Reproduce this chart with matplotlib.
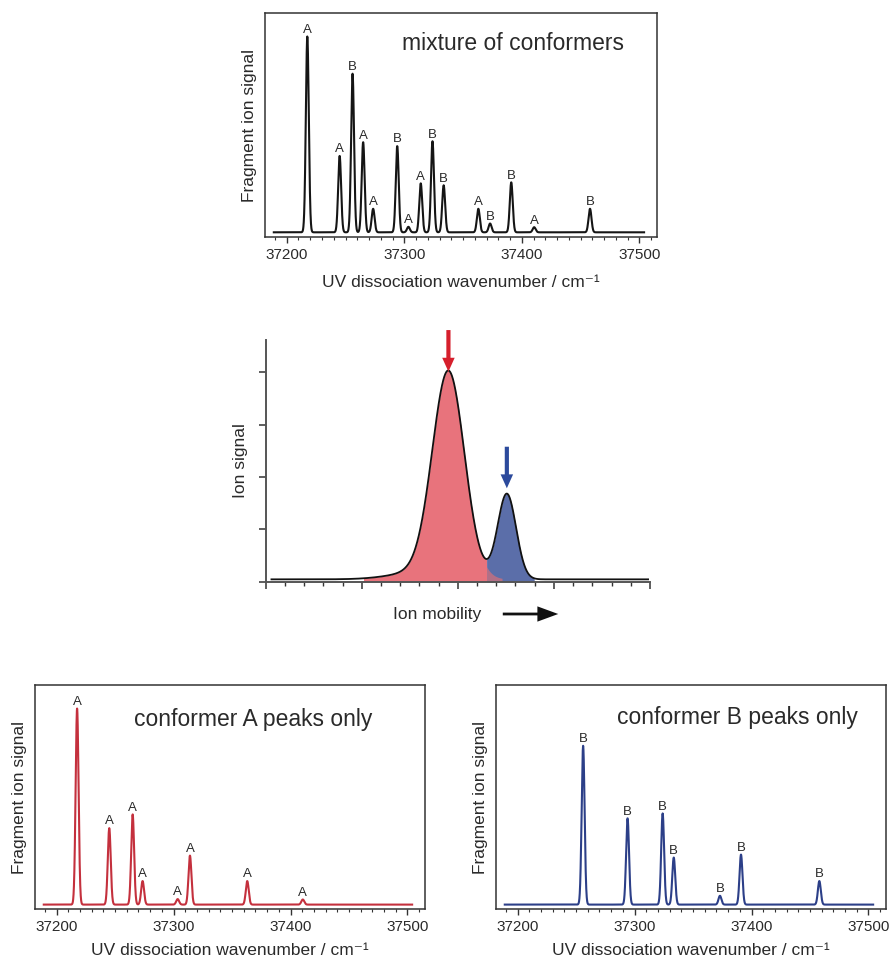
import numpy as np
import matplotlib
matplotlib.use("Agg")
import matplotlib.pyplot as plt
from matplotlib.ticker import MultipleLocator, NullLocator

plt.rcParams['font.family'] = ['Liberation Sans', 'DejaVu Sans']

# ---------------- data ----------------
peaks_A_pos = [37217.5, 37245, 37265, 37273.5, 37303.5, 37314, 37363, 37410.5]
peaks_A_h = [1.0, 0.39, 0.46, 0.12, 0.028, 0.25, 0.12, 0.026]
peaks_B_pos = [37256, 37294, 37324, 37333.5, 37373, 37391, 37458]
peaks_B_h = [0.81, 0.44, 0.465, 0.24, 0.045, 0.255, 0.12]
peak_sigma = 1.25
spec_range = (37189, 37504)
x_ticks = [37200, 37300, 37400, 37500]

# ion mobility components (arbitrary units)
mob_red = dict(center=9.51, height=3.88, sigma=0.83)
mob_tail = dict(center=8.3, height=0.15, sigma=1.6)
mob_blue = dict(center=12.55, height=1.63, sigma=0.48)
mob_baseline = 0.045
mob_range = (0.3, 19.9)

TXT = '#2a2a2a'
SP = '#333333'


def spectrum(x, pos, h):
    y = np.zeros_like(x)
    for p, a in zip(pos, h):
        y += a * np.exp(-0.5 * ((x - p) / peak_sigma) ** 2)
    return y


def gauss(x, c):
    return c['height'] * np.exp(-0.5 * ((x - c['center']) / c['sigma']) ** 2)


W, H = 889, 960
fig = plt.figure(figsize=(W / 100, H / 100), dpi=100)


def ax_px(l, t, r, b):
    return fig.add_axes([l / W, 1 - b / H, (r - l) / W, (b - t) / H])


def style_spec(ax, labelpad=9):
    ax.set_xlim(37181.5, 37515)
    ax.set_ylim(-0.024, 1.12)
    ax.set_xticks(x_ticks)
    ax.xaxis.set_minor_locator(MultipleLocator(10))
    ax.yaxis.set_major_locator(NullLocator())
    ax.tick_params(axis='x', which='major', direction='out', length=4, width=1.0,
                   labelsize=11, colors=SP, labelcolor=TXT, pad=4)
    ax.tick_params(axis='x', which='minor', direction='out', length=2.5, width=0.8, colors=SP)
    for s in ax.spines.values():
        s.set_color(SP)
        s.set_linewidth(1.1)
    ax.set_xlabel('UV dissociation wavenumber / cm\u207b\u00b9', fontsize=12.5,
                  color=TXT, labelpad=labelpad)
    ax.set_ylabel('Fragment ion signal', fontsize=12.5, color=TXT, labelpad=6)


def draw_spec(ax, series, color):
    x = np.linspace(spec_range[0], spec_range[1], 6000)
    pos_all, h_all = [], []
    for pos, h, lab in series:
        pos_all += pos
        h_all += h
    ax.plot(x, spectrum(x, pos_all, h_all), color=color, lw=1.5)
    for pos, h, lab in series:
        for p, a in zip(pos, h):
            ax.annotate(lab, (p, a), xytext=(0, 0.5), textcoords='offset points',
                        ha='center', va='bottom', fontsize=9.5, color=TXT)


# ---------------- top: mixture ----------------
ax1 = ax_px(265, 13, 657, 237)
draw_spec(ax1, [(peaks_A_pos, peaks_A_h, 'A'), (peaks_B_pos, peaks_B_h, 'B')], '#151515')
style_spec(ax1, labelpad=9)
ax1.text(0.35, 0.865, 'mixture of conformers', transform=ax1.transAxes, fontsize=16.5,
         color=TXT, ha='left', va='center')

# ---------------- middle: ion mobility ----------------
ax2 = ax_px(265.7, 340, 650, 581.7)
xm = np.linspace(mob_range[0], mob_range[1], 3000)
red = gauss(xm, mob_red) + gauss(xm, mob_tail)
blue = gauss(xm, mob_blue)
total = red + blue + mob_baseline
between = (xm > mob_red['center']) & (xm < mob_blue['center'])
dip_x = xm[between][np.argmin(total[between])]
ax2.fill_between(xm, 0, total, where=(red > 0.02) & (xm <= dip_x), color='#e8737c', lw=0)
ax2.fill_between(xm, 0, total, where=(blue > 0.02) & (xm >= dip_x), color='#5b6ea9', lw=0)
ax2.fill_between(xm, 0, red + mob_baseline, where=(red > 0.02) & (xm >= dip_x),
                 color='#c9707e', lw=0, alpha=0.8)
ax2.plot(xm, total, color='#111111', lw=1.3)
ax2.set_xlim(0, 20)
ax2.set_ylim(0, 4.62)
ax2.xaxis.set_major_locator(MultipleLocator(5))
ax2.xaxis.set_minor_locator(MultipleLocator(1))
ax2.yaxis.set_major_locator(MultipleLocator(1))
ax2.set_xticklabels([])
ax2.set_yticklabels([])
ax2.tick_params(axis='both', which='major', direction='out', length=5, width=1.1, colors=SP)
ax2.tick_params(axis='x', which='minor', direction='out', length=3, width=1.0, colors=SP)
for s in ['top', 'right']:
    ax2.spines[s].set_visible(False)
for s in ['left', 'bottom']:
    ax2.spines[s].set_color('#555555')
    ax2.spines[s].set_linewidth(1.4)
ax2.set_ylabel('Ion signal', fontsize=12.5, color=TXT, labelpad=4)

arrow_kw = dict(arrowstyle='simple,head_width=0.45,head_length=0.5,tail_width=0.15',
                mutation_scale=20, shrinkA=0, shrinkB=0, lw=0)
ax2.annotate('', xy=(mob_red['center'], 4.015), xytext=(mob_red['center'], 4.81),
             arrowprops=dict(color='#d61f2c', **arrow_kw), annotation_clip=False)
ax2.annotate('', xy=(mob_blue['center'], 1.786), xytext=(mob_blue['center'], 2.58),
             arrowprops=dict(color='#2c4a9c', **arrow_kw), annotation_clip=False)

fig.text(436.7 / W, 1 - 614 / H, 'Ion mobility', fontsize=12.5, color=TXT,
         ha='center', va='center')
fig.patches.append(matplotlib.patches.FancyArrowPatch(
    (500 / W, 1 - 614 / H), (561 / W, 1 - 614 / H), transform=fig.transFigure,
    arrowstyle='simple,head_width=0.55,head_length=0.75,tail_width=0.1',
    mutation_scale=20, color='#111111', lw=0))

# ---------------- bottom-left: conformer A ----------------
ax3 = ax_px(35, 685, 425, 909.3)
draw_spec(ax3, [(peaks_A_pos, peaks_A_h, 'A')], '#c4303d')
style_spec(ax3, labelpad=6)
ax3.text(0.255, 0.845, 'conformer A peaks only', transform=ax3.transAxes, fontsize=16.5,
         color=TXT, ha='left', va='center')

# ---------------- bottom-right: conformer B ----------------
ax4 = ax_px(496, 685, 886, 909.3)
draw_spec(ax4, [(peaks_B_pos, peaks_B_h, 'B')], '#2c3f88')
style_spec(ax4, labelpad=6)
ax4.text(0.31, 0.855, 'conformer B peaks only', transform=ax4.transAxes, fontsize=16.5,
         color=TXT, ha='left', va='center')

fig.savefig('out.png', dpi=100)
